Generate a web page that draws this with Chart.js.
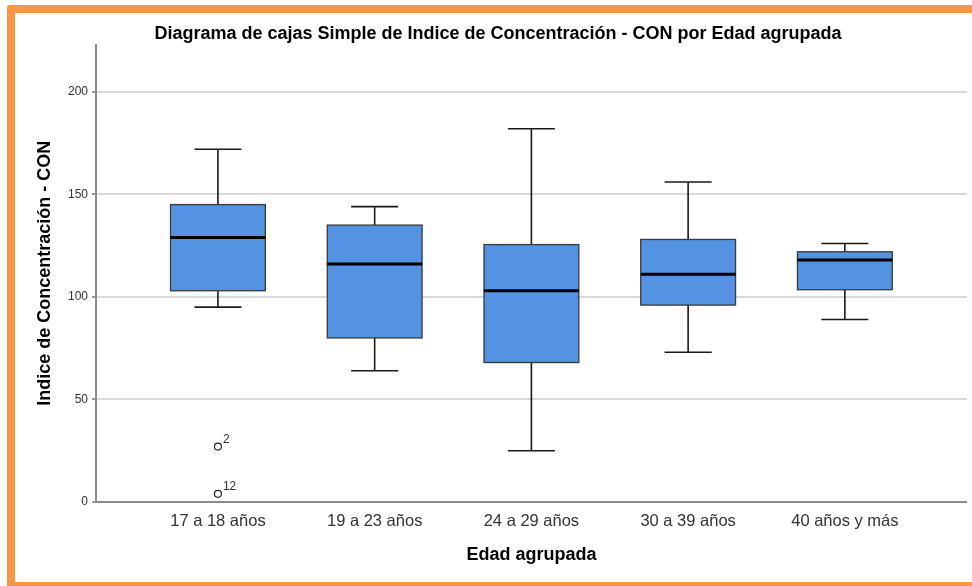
<!DOCTYPE html>
<html lang="es">
<head>
  <meta charset="UTF-8" />
  <title>Diagrama de cajas</title>
  <script src="https://cdn.jsdelivr.net/npm/chart.js"></script>
  <style>
    html, body { margin: 0; padding: 0; background: #fff; overflow: hidden; }
    #wrap { position: relative; width: 972px; height: 586px; }
    #frame { position: absolute; left: 7px; top: 5px; width: 990px; height: 585px;
             border: 8px solid #F79646; border-radius: 3px; pointer-events: none; box-sizing: border-box; }
  </style>
</head>
<body>
<div id="wrap">
  <canvas id="boxChart" width="972" height="586"></canvas>
  <div id="frame"></div>
</div>

<script>
  // datos
  const categories = ['17 a 18 años', '19 a 23 años', '24 a 29 años', '30 a 39 años', '40 años y más'];
  const whiskerLow  = [95, 64, 25, 73, 89];
  const q1          = [103, 80, 68, 96, 103.5];
  const median      = [129, 116, 103, 111, 118];
  const q3          = [145, 135, 125.5, 128, 122];
  const whiskerHigh = [172, 144, 182, 156, 126];
  const outlierGroup = [0, 0];
  const outlierValue = [27, 4];
  const outlierId    = ['2', '12'];
  const yTicks = [0, 50, 100, 150, 200];

  const BOX_W = 0.605;  // en unidades de categoria
  const CAP_W = 0.30;

  const boxPlugin = {
    id: 'boxes',
    afterDatasetsDraw(chart) {
      const ctx = chart.ctx;
      const xs = chart.scales.x, ys = chart.scales.y;
      ctx.save();
      categories.forEach((c, i) => {
        const xc = xs.getPixelForValue(i);
        const xl = xs.getPixelForValue(i - BOX_W / 2);
        const xr = xs.getPixelForValue(i + BOX_W / 2);
        const cl = xs.getPixelForValue(i - CAP_W / 2);
        const cr = xs.getPixelForValue(i + CAP_W / 2);
        const yLo = ys.getPixelForValue(whiskerLow[i]);
        const yHi = ys.getPixelForValue(whiskerHigh[i]);
        const yQ1 = ys.getPixelForValue(q1[i]);
        const yQ3 = ys.getPixelForValue(q3[i]);
        const yMd = ys.getPixelForValue(median[i]);

        // bigotes
        ctx.strokeStyle = '#1a1a1a';
        ctx.lineWidth = 1.6;
        ctx.beginPath();
        ctx.moveTo(xc, yHi); ctx.lineTo(xc, yQ3);
        ctx.moveTo(xc, yQ1); ctx.lineTo(xc, yLo);
        ctx.moveTo(cl, yHi); ctx.lineTo(cr, yHi);
        ctx.moveTo(cl, yLo); ctx.lineTo(cr, yLo);
        ctx.stroke();

        // caja
        ctx.fillStyle = '#5393E2';
        ctx.fillRect(xl, yQ3, xr - xl, yQ1 - yQ3);
        ctx.strokeStyle = '#3a3a3a';
        ctx.lineWidth = 1.3;
        ctx.strokeRect(xl, yQ3, xr - xl, yQ1 - yQ3);

        // mediana
        ctx.strokeStyle = '#000';
        ctx.lineWidth = 3;
        ctx.beginPath();
        ctx.moveTo(xl, yMd); ctx.lineTo(xr, yMd);
        ctx.stroke();
      });

      // etiquetas de atipicos
      ctx.fillStyle = '#333';
      ctx.font = '12px "Liberation Sans", Arial, sans-serif';
      ctx.textAlign = 'left';
      ctx.textBaseline = 'alphabetic';
      outlierValue.forEach((v, k) => {
        const px = xs.getPixelForValue(outlierGroup[k]);
        const py = ys.getPixelForValue(v);
        ctx.fillText(outlierId[k], px + 5, py - 4);
      });
      ctx.restore();
    }
  };

  const font = '"Liberation Sans", Arial, sans-serif';

  new Chart(document.getElementById('boxChart').getContext('2d'), {
    type: 'scatter',
    data: {
      datasets: [{
        label: 'Atípicos',
        data: outlierValue.map((v, k) => ({ x: outlierGroup[k], y: v })),
        pointStyle: 'circle',
        pointRadius: 3.5,
        pointBackgroundColor: '#fff',
        pointBorderColor: '#222',
        pointBorderWidth: 1.2
      }]
    },
    plugins: [boxPlugin],
    options: {
      responsive: false,
      animation: false,
      events: [],
      layout: { padding: { top: 0, left: 28, right: 4, bottom: 0 } },
      plugins: {
        legend: { display: false },
        tooltip: { enabled: false },
        title: {
          display: true,
          text: 'Diagrama de cajas Simple de Indice de Concentración - CON por Edad agrupada',
          color: '#000',
          font: { family: font, size: 18, weight: 'bold' },
          padding: { top: 23, bottom: 0 }
        }
      },
      scales: {
        x: {
          type: 'linear',
          min: -0.778,
          max: 4.778,
          afterBuildTicks: s => { s.ticks = categories.map((c, i) => ({ value: i })); },
          afterFit: s => { s.height = 84; },
          ticks: {
            callback: v => categories[v],
            color: '#333',
            font: { family: font, size: 16.5 },
            padding: 10,
            maxRotation: 0,
            autoSkip: false
          },
          grid: { display: false, drawTicks: false },
          border: { color: '#8c8c8c', width: 2 },
          title: {
            display: true,
            text: 'Edad agrupada',
            color: '#000',
            font: { family: font, size: 18, weight: 'bold' },
            padding: { top: 0, bottom: 20 }
          }
        },
        y: {
          min: 0,
          max: 223,
          afterBuildTicks: s => { s.ticks = yTicks.map(v => ({ value: v })); },
          afterFit: s => { s.width = 68; },
          ticks: {
            color: '#333',
            font: { family: font, size: 12 },
            padding: 4
          },
          grid: { color: '#d9d9d9', lineWidth: 2, tickLength: 4, tickColor: '#999' },
          border: { color: '#8c8c8c', width: 2 },
          title: {
            display: true,
            text: 'Indice de Concentración - CON',
            color: '#000',
            font: { family: font, size: 18, weight: 'bold' },
            padding: { top: 6, bottom: 0 }
          }
        }
      }
    }
  });
</script>
</body>
</html>
